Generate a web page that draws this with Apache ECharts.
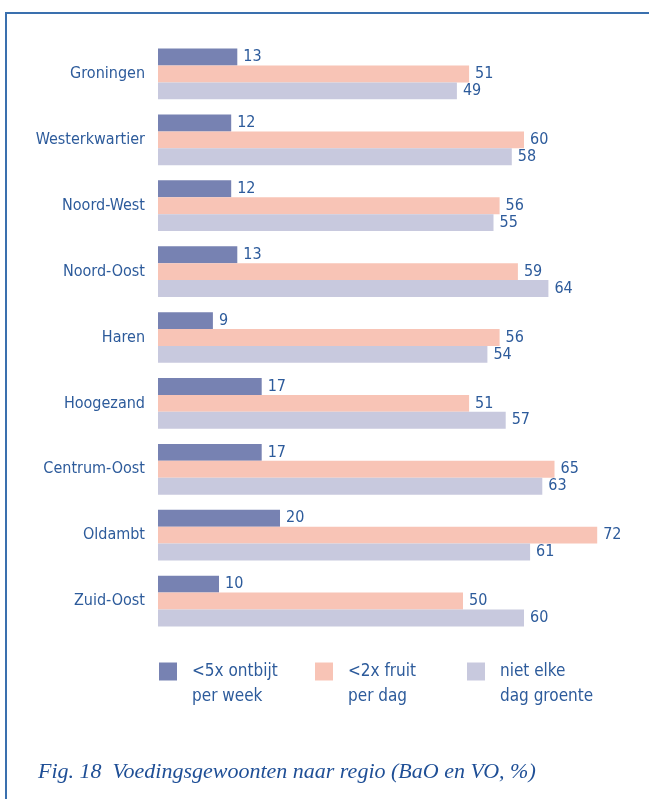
<!DOCTYPE html>
<html>
<head>
<meta charset="utf-8">
<script src="https://cdn.jsdelivr.net/npm/echarts@6/dist/echarts.min.js"></script>
<style>
    html, body { margin: 0; padding: 0; background: #fff; }
    #frame {
        position: absolute; left: 5px; top: 12px; width: 660px; height: 800px;
        border-top: 2px solid #3a70ae; border-left: 2px solid #3a70ae;
    }
    #chart { position: absolute; left: 0; top: 0; width: 649px; height: 799px; }
</style>
</head>
<body>
<div id="frame"></div>
<div id="chart"></div>
<script>
// regio's, van boven naar beneden
var regios = ['Groningen', 'Westerkwartier', 'Noord-West', 'Noord-Oost', 'Haren',
    'Hoogezand', 'Centrum-Oost', 'Oldambt', 'Zuid-Oost'];
// percentages per reeks
var ontbijt = [13, 12, 12, 13, 9, 17, 17, 20, 10];
var fruit = [51, 60, 56, 59, 56, 51, 65, 72, 50];
var groente = [49, 58, 55, 64, 54, 57, 63, 61, 60];
var reeksNamen = ['<5x ontbijt\nper week', '<2x fruit\nper dag', 'niet elke\ndag groente'];

(function(){
    var blauw = '#2d5b9b';
    var lettertype = 'Liberation Sans Narrow, DejaVu Sans Condensed, sans-serif';
    var myChart = echarts.init(document.getElementById('chart'));

    var label = {
        show: true,
        position: 'right',
        distance: 6,
        color: blauw,
        fontSize: 16,
        fontFamily: lettertype
    };

    // legenda: één per reeks, zodat ze los te plaatsen zijn
    function legenda(naam, left) {
        return {
            data: [naam],
            left: left,
            top: 629,
            itemWidth: 18,
            itemHeight: 18,
            icon: 'rect',
            selectedMode: false,
            // lege eerste regel: icoon komt dan naast de eerste tekstregel
            formatter: function(n) { return '\n' + n; },
            textStyle: {
                color: blauw,
                fontSize: 17,
                lineHeight: 25,
                padding: [0, 0, 0, 10],
                fontFamily: lettertype
            }
        };
    }

    var option = {
        color: ['#7782b2', '#f8c4b6', '#c8c9de'],
        animation: false,
        title: {
            text: 'Fig. 18  Voedingsgewoonten naar regio (BaO en VO, %)',
            left: 33,
            top: 756,
            textStyle: {
                color: '#1f4f96',
                fontSize: 22,
                fontWeight: 'normal',
                fontStyle: 'italic',
                fontFamily: 'Liberation Serif, DejaVu Serif, serif'
            }
        },
        legend: [
            legenda(reeksNamen[0], 154),
            legenda(reeksNamen[1], 310),
            legenda(reeksNamen[2], 462)
        ],
        grid: {
            left: 158,
            top: 41,
            width: 488,
            height: 593
        },
        xAxis: {
            type: 'value',
            min: 0,
            max: 80,
            show: false
        },
        yAxis: {
            type: 'category',
            data: regios,
            inverse: true,
            axisLine: { show: false },
            axisTick: { show: false },
            axisLabel: {
                margin: 13,
                color: blauw,
                fontSize: 16,
                fontWeight: 500,
                fontFamily: lettertype
            }
        },
        series: [
            {
                name: reeksNamen[0],
                type: 'bar',
                data: ontbijt,
                barGap: '0%',
                barCategoryGap: '23%',
                label: label
            },
            {
                name: reeksNamen[1],
                type: 'bar',
                data: fruit,
                barGap: '0%',
                barCategoryGap: '23%',
                label: label
            },
            {
                name: reeksNamen[2],
                type: 'bar',
                data: groente,
                barGap: '0%',
                barCategoryGap: '23%',
                label: label
            }
        ]
    };
    myChart.setOption(option);
})();
</script>
</body>
</html>
